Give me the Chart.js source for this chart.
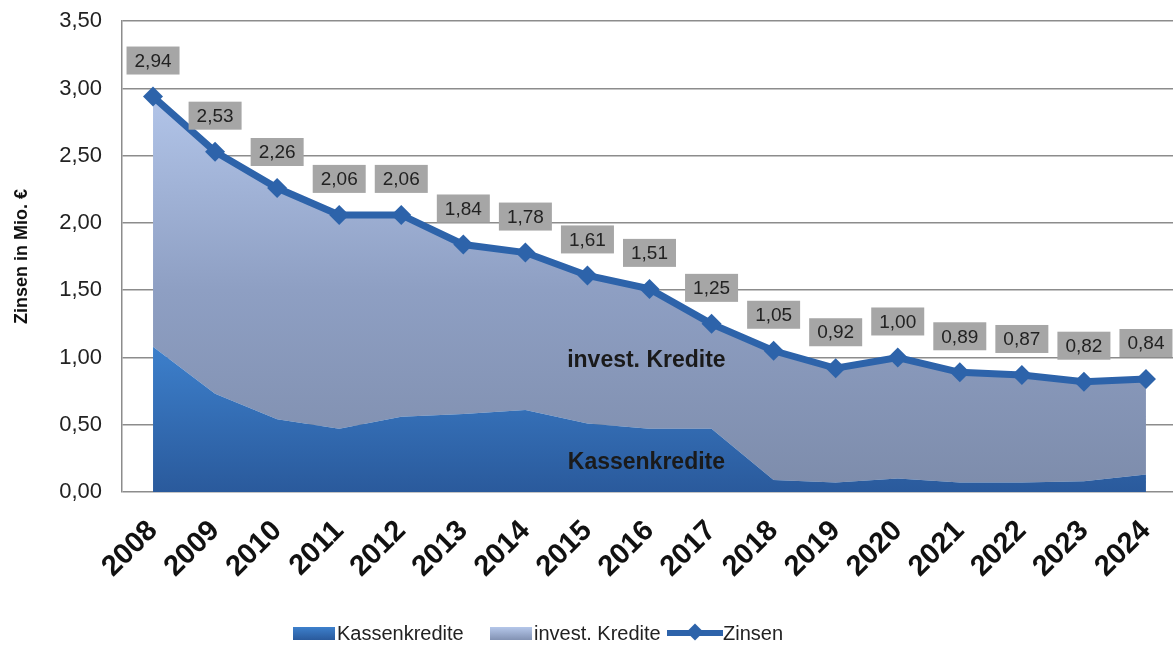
<!DOCTYPE html>
<html>
<head>
<meta charset="utf-8">
<script src="https://cdn.jsdelivr.net/npm/chart.js@4"></script>
<style>
  body { margin: 0; background: #fff; font-family: "Liberation Sans", Arial, sans-serif; overflow: hidden; }
  #wrap { position: relative; width: 1173px; height: 646px; overflow: hidden; }
  #chart { position: absolute; left: 0; top: -12px; }
  #legend { position: absolute; left: 0; top: 621px; width: 1173px; height: 24px; font-size: 20px; color: #222; }
  .item { position: absolute; top: 0; height: 24px; display: flex; align-items: center; }
  .box { width: 42px; height: 13px; margin-right: 2px; }
  .lineSample { position: relative; width: 56px; height: 6px; background: #2d63aa; margin-right: 0; }
  .lineSample span { position: absolute; left: 22px; top: -4px; width: 12px; height: 12px;
                     background: #2d63aa; transform: rotate(45deg); }
</style>
</head>
<body>
<div id="wrap">
  <canvas id="chart" width="1187" height="658"></canvas>
  <div id="legend">
    <div class="item" style="left: 293px;"><div class="box" style="background: linear-gradient(#3d80cc, #2a5a9c);"></div>Kassenkredite</div>
    <div class="item" style="left: 490px;"><div class="box" style="background: linear-gradient(#b5c7ea, #8292b3);"></div>invest. Kredite</div>
    <div class="item" style="left: 667px;"><div class="lineSample"><span></span></div>Zinsen</div>
  </div>
</div>
<script>
const years = ['2008','2009','2010','2011','2012','2013','2014','2015','2016',
               '2017','2018','2019','2020','2021','2022','2023','2024'];
const zinsen = [2.94, 2.53, 2.26, 2.06, 2.06, 1.84, 1.78, 1.61, 1.51,
                1.25, 1.05, 0.92, 1.00, 0.89, 0.87, 0.82, 0.84];
const kassenkredite = [1.08, 0.73, 0.54, 0.47, 0.56, 0.58, 0.61, 0.51, 0.47,
                       0.47, 0.09, 0.07, 0.10, 0.07, 0.07, 0.08, 0.13];
// invest. Kredite = Zinsen minus Kassenkredite (stacked on top)
const investKredite = zinsen.map((z, i) => +(z - kassenkredite[i]).toFixed(2));
const yTicks = [0, 0.5, 1, 1.5, 2, 2.5, 3, 3.5];

function fmt(v) { return v.toFixed(2).replace('.', ','); }

function gradKassen(ctx) {
  const chart = ctx.chart;
  const { chartArea, scales } = chart;
  if (!chartArea) return '#3372bd';
  const g = chart.ctx.createLinearGradient(0, scales.y.getPixelForValue(1.1), 0, scales.y.getPixelForValue(0));
  g.addColorStop(0, '#3d80cc');
  g.addColorStop(1, '#2a5a9c');
  return g;
}

function gradInvest(ctx) {
  const chart = ctx.chart;
  const { chartArea, scales } = chart;
  if (!chartArea) return '#95a6c8';
  const g = chart.ctx.createLinearGradient(0, scales.y.getPixelForValue(3.0), 0, scales.y.getPixelForValue(0));
  g.addColorStop(0, '#b3c6ea');
  g.addColorStop(0.5, '#8e9fc3');
  g.addColorStop(1, '#7d8cab');
  return g;
}

// gray value boxes above the Zinsen points + area captions
const labelPlugin = {
  id: 'labels',
  afterDatasetsDraw(chart) {
    const c = chart.ctx;
    const meta = chart.getDatasetMeta(2);
    c.save();
    c.font = '19px "Liberation Sans", Arial, sans-serif';
    c.textAlign = 'center';
    c.textBaseline = 'middle';
    meta.data.forEach((pt, i) => {
      const w = 53, h = 28;
      const bx = pt.x - w / 2, by = pt.y - 22 - h;
      c.fillStyle = '#a6a6a6';
      c.fillRect(bx, by, w, h);
      c.fillStyle = '#222';
      c.fillText(fmt(zinsen[i]), pt.x, by + h / 2 + 1);
    });
    const x = chart.scales.x, y = chart.scales.y;
    c.font = 'bold 23px "Liberation Sans", Arial, sans-serif';
    c.fillStyle = '#1a1a1a';
    c.fillText('invest. Kredite', x.getPixelForValue(7.95), y.getPixelForValue(0.98));
    c.fillText('Kassenkredite', x.getPixelForValue(7.95), y.getPixelForValue(0.22));
    c.restore();
  }
};

new Chart(document.getElementById('chart'), {
  type: 'line',
  data: {
    labels: years,
    datasets: [
      {
        label: 'Kassenkredite',
        data: kassenkredite,
        order: 1,
        fill: 'origin',
        backgroundColor: gradKassen,
        borderWidth: 0,
        pointRadius: 0,
        tension: 0
      },
      {
        label: 'invest. Kredite',
        data: investKredite,
        order: 2,
        fill: '-1',
        backgroundColor: gradInvest,
        borderWidth: 0,
        pointRadius: 0,
        tension: 0
      },
      {
        label: 'Zinsen',
        data: zinsen,
        order: 0,
        stack: 'zinsen',
        fill: false,
        borderColor: '#2d63aa',
        borderWidth: 7,
        pointStyle: 'rectRot',
        pointRadius: 10,
        pointBackgroundColor: '#2d63aa',
        pointBorderColor: '#2d63aa',
        pointBorderWidth: 0,
        tension: 0
      }
    ]
  },
  options: {
    responsive: false,
    animation: false,
    layout: { padding: { top: 0, right: 0, left: 0, bottom: 0 } },
    plugins: {
      legend: { display: false },
      tooltip: { enabled: false }
    },
    scales: {
      x: {
        offset: true,
        grid: { display: false },
        border: { display: false },
        ticks: {
          minRotation: 45,
          maxRotation: 45,
          padding: 14,
          color: '#111',
          font: { family: '"Liberation Sans", Arial, sans-serif', size: 29, weight: 'bold' }
        },
        afterFit(scale) { scale.height = 154; }
      },
      y: {
        stacked: true,
        min: 0,
        max: 3.5,
        afterBuildTicks(scale) { scale.ticks = yTicks.map(v => ({ value: v })); },
        grid: { color: '#8c8c8c', lineWidth: 1.5, drawTicks: false },
        border: { color: '#8c8c8c', width: 1.5 },
        ticks: {
          padding: 20,
          color: '#222',
          font: { family: '"Liberation Sans", Arial, sans-serif', size: 22 },
          callback: v => fmt(v)
        },
        title: {
          display: true,
          text: 'Zinsen in Mio. €',
          color: '#111',
          padding: { top: 11, bottom: 0 },
          font: { family: '"Liberation Sans", Arial, sans-serif', size: 18, weight: 'bold' }
        },
        afterFit(scale) { scale.width = 122; }
      }
    }
  },
  plugins: [labelPlugin]
});
</script>
</body>
</html>
